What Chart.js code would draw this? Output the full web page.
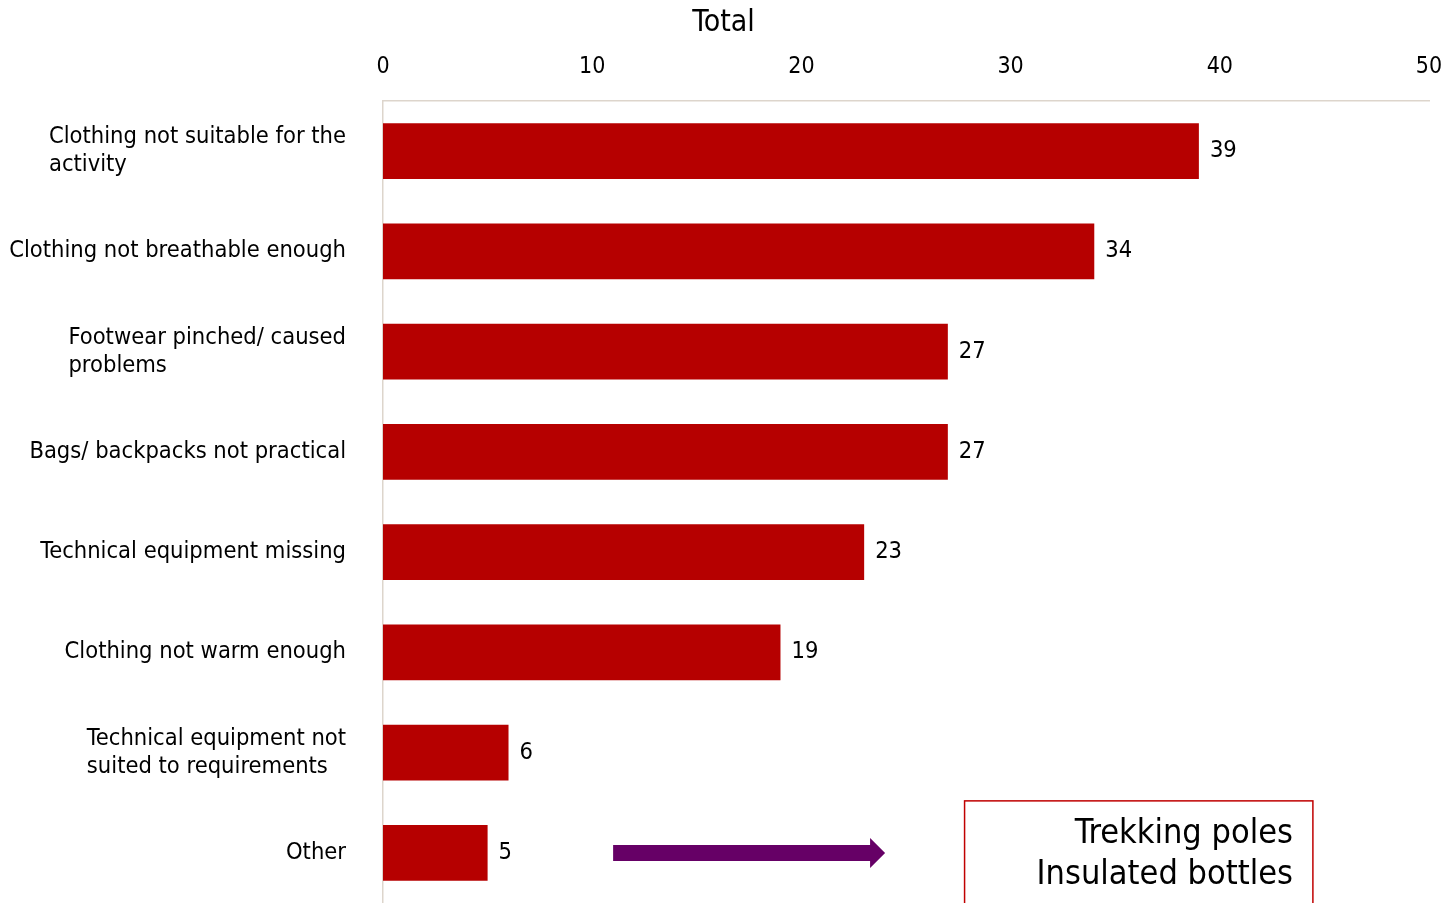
<!DOCTYPE html>
<html>
<head>
<meta charset="utf-8">
<script src="https://cdn.jsdelivr.net/npm/chart.js@4/dist/chart.umd.min.js"></script>
<style>
  html,body{margin:0;padding:0;background:#fff;}
  #wrap{width:1447px;height:903px;}
</style>
</head>
<body>
<div id="wrap"><canvas id="totalChart" width="1447" height="903"></canvas></div>
<script>
const categorias = [
  ["Clothing not suitable for the", "activity"],
  ["Clothing not breathable enough"],
  ["Footwear pinched/ caused", "problems"],
  ["Bags/ backpacks not practical"],
  ["Technical equipment missing"],
  ["Clothing not warm enough"],
  ["Technical equipment not", "suited to requirements"],
  ["Other"]
];
const valores = [39, 34, 27, 27, 23, 19, 6, 5];
const ticksX = [0, 10, 20, 30, 40, 50];
const notaOtros = ["Trekking poles", "Insulated bottles"];

const FUENTE = "'DejaVu Sans Condensed', 'DejaVu Sans', Tahoma, sans-serif";

// etiquetas de categoria: bloque alineado a la derecha, lineas alineadas a la izquierda
const etiquetasPlugin = {
  id: 'etiquetas',
  afterDraw(chart){
    const ctx = chart.ctx;
    const y = chart.scales.y;
    const x = chart.scales.x;
    ctx.save();
    ctx.fillStyle = '#000';
    ctx.font = '23.5px ' + FUENTE;
    ctx.textBaseline = 'middle';
    ctx.textAlign = 'left';
    const alto = 28;
    categorias.forEach((lineas, i) => {
      const yc = y.getPixelForValue(i);
      const ancho = Math.max(...lineas.map(l => ctx.measureText(l).width));
      const izq = 346 - ancho;
      const y0 = yc - (lineas.length - 1) * alto / 2;
      lineas.forEach((l, k) => ctx.fillText(l, izq, y0 + k * alto));
    });

    // valores al final de cada barra
    const meta = chart.getDatasetMeta(0);
    meta.data.forEach((bar, i) => {
      ctx.fillText(String(valores[i]), bar.x + 11, bar.y);
    });

    // flecha y recuadro de "Other"
    const iOtro = categorias.length - 1;
    const yo = y.getPixelForValue(iOtro);
    const xa = x.getPixelForValue(11);
    const xb = x.getPixelForValue(24);
    ctx.fillStyle = '#660066';
    ctx.beginPath();
    ctx.moveTo(xa, yo - 8);
    ctx.lineTo(xb - 15, yo - 8);
    ctx.lineTo(xb - 15, yo - 15);
    ctx.lineTo(xb, yo);
    ctx.lineTo(xb - 15, yo + 15);
    ctx.lineTo(xb - 15, yo + 8);
    ctx.lineTo(xa, yo + 8);
    ctx.closePath();
    ctx.fill();

    const bx1 = x.getPixelForValue(27.8);
    const bx2 = x.getPixelForValue(44.45);
    ctx.strokeStyle = '#C00000';
    ctx.lineWidth = 1.5;
    ctx.strokeRect(bx1, yo - 52, bx2 - bx1, 120);
    ctx.fillStyle = '#000';
    ctx.font = '34px ' + FUENTE;
    ctx.textAlign = 'right';
    ctx.fillText(notaOtros[0], bx2 - 20, yo - 19);
    ctx.fillText(notaOtros[1], bx2 - 20, yo + 22);
    ctx.restore();
  }
};

new Chart(document.getElementById('totalChart'), {
  type: 'bar',
  data: {
    labels: categorias.map(c => c.join(' ')),
    datasets: [{
      data: valores,
      backgroundColor: '#B60000',
      borderWidth: 0,
      barPercentage: 0.557,
      categoryPercentage: 1
    }]
  },
  options: {
    indexAxis: 'y',
    responsive: false,
    animation: false,
    layout: { padding: { left: 18, right: 18, top: 0, bottom: 0 } },
    plugins: {
      legend: { display: false },
      tooltip: { enabled: false },
      title: {
        display: true,
        text: 'Total',
        color: '#000',
        font: { family: FUENTE, size: 30, weight: 'normal' },
        padding: { top: 5, bottom: 1 }
      }
    },
    scales: {
      x: {
        position: 'top',
        min: 0,
        max: 50,
        afterBuildTicks: s => { s.ticks = ticksX.map(v => ({ value: v })); },
        afterFit: s => { s.height = 59; s.paddingLeft = 0; s.paddingRight = 0; },
        grid: { display: false, drawTicks: false },
        border: { display: true, color: '#DDD5CC', width: 1.5 },
        ticks: {
          color: '#000',
          padding: 20,
          font: { family: FUENTE, size: 23 }
        }
      },
      y: {
        afterFit: s => { s.width = 365; },
        grid: { display: false, drawTicks: false },
        border: { display: true, color: '#DDD5CC', width: 1.5 },
        ticks: { display: false }
      }
    }
  },
  plugins: [etiquetasPlugin]
});
</script>
</body>
</html>
